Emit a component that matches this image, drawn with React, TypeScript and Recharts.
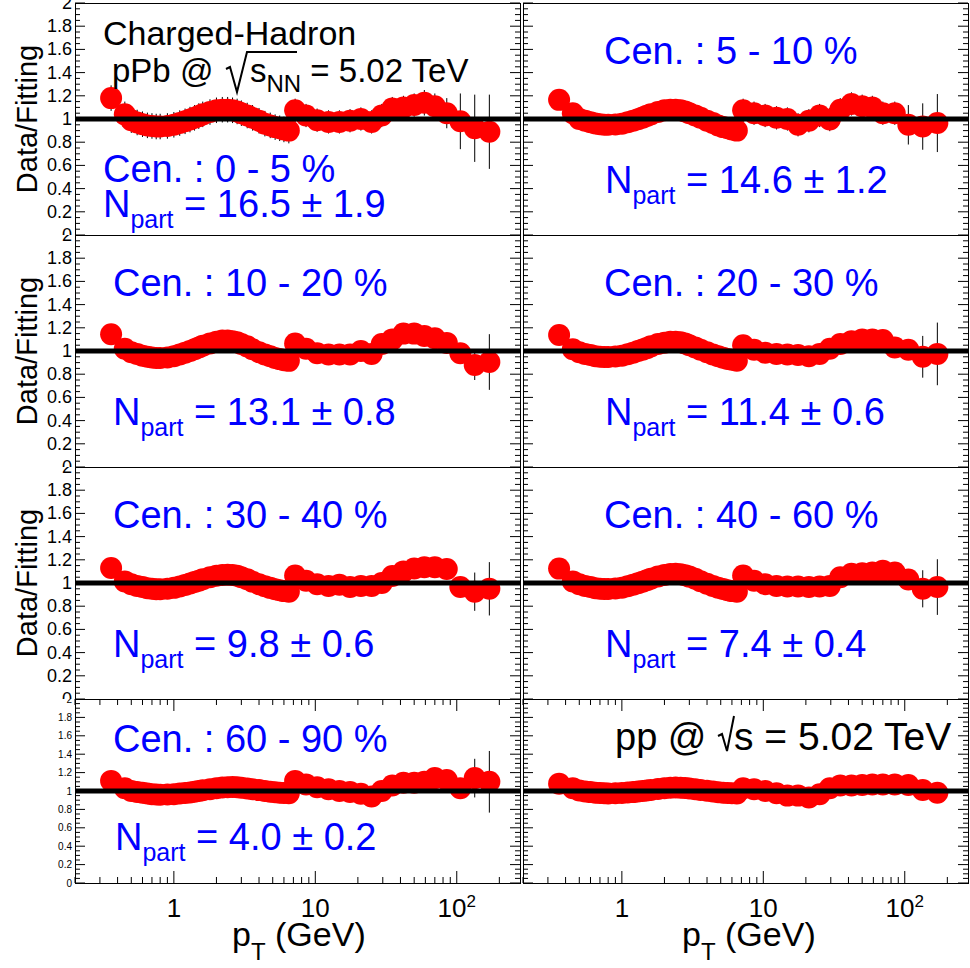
import React from 'react';
import { ScatterChart, Scatter, XAxis, YAxis, ErrorBar, ReferenceLine } from 'recharts';

const FONT = '"Liberation Sans", Arial, Helvetica, sans-serif';
const RED = '#ff0000';
const BLUE = '#0000ff';

// pT bin centres (GeV), shared by every panel
const PT = [
  0.36, 0.45,
  0.5, 0.55, 0.6, 0.65, 0.7, 0.75, 0.8, 0.9, 1.0, 1.1, 1.2, 1.3, 1.4, 1.5, 1.6, 1.8,
  2.0, 2.2, 2.4, 2.6, 2.8, 3.0, 3.3, 3.6, 4.0, 4.4, 4.8, 5.2, 5.6, 6.0, 6.5,
  7.2, 8.6, 10.3, 12.4, 14.8, 17.6, 21, 25, 29.5, 35, 42, 50, 59, 70, 85, 106, 134, 170,
];

// Data/Fitting ratios and their errors per centrality class
const R_0_5 = [
  1.18, 1.04,
  0.99, 0.97, 0.955, 0.945, 0.94, 0.935, 0.935, 0.94, 0.95, 0.965, 0.98, 0.995, 1.01, 1.025, 1.04, 1.06,
  1.075, 1.08, 1.08, 1.075, 1.065, 1.05, 1.03, 1.01, 0.985, 0.96, 0.945, 0.93, 0.92, 0.91, 0.9,
  1.075, 1.03, 0.99, 0.975, 0.975, 0.985, 1.0, 0.975, 1.03, 1.09, 1.1, 1.12, 1.14, 1.11, 1.05, 0.98, 0.92, 0.89,
];
const E_0_5 = [
  0.11, 0.11,
  0.11, 0.11, 0.11, 0.11, 0.11, 0.11, 0.11, 0.11, 0.11, 0.11, 0.11, 0.11, 0.11, 0.11, 0.11, 0.11,
  0.11, 0.11, 0.11, 0.11, 0.11, 0.11, 0.11, 0.11, 0.11, 0.11, 0.11, 0.11, 0.11, 0.11, 0.11,
  0.1, 0.1, 0.1, 0.1, 0.1, 0.1, 0.1, 0.1, 0.1, 0.1, 0.1, 0.1, 0.11, 0.11, 0.13, 0.24, 0.29, 0.32,
];

const R_5_10 = [
  1.165, 1.05,
  1.0, 0.985, 0.972, 0.962, 0.955, 0.95, 0.95, 0.953, 0.96, 0.972, 0.985, 0.998, 1.012, 1.027, 1.04, 1.06,
  1.075, 1.08, 1.08, 1.075, 1.065, 1.05, 1.03, 1.01, 0.985, 0.965, 0.945, 0.93, 0.92, 0.91, 0.9,
  1.075, 1.05, 1.03, 1.01, 1.0, 0.95, 0.985, 1.03, 0.995, 1.08, 1.13, 1.11, 1.1, 1.05, 1.05, 0.95, 0.935, 0.965,
];
const E_5_10 = [
  0.08, 0.08,
  0.08, 0.08, 0.08, 0.08, 0.08, 0.08, 0.08, 0.08, 0.08, 0.08, 0.08, 0.08, 0.08, 0.08, 0.08, 0.08,
  0.08, 0.08, 0.08, 0.08, 0.08, 0.08, 0.08, 0.08, 0.08, 0.08, 0.08, 0.08, 0.08, 0.08, 0.08,
  0.1, 0.1, 0.1, 0.1, 0.1, 0.1, 0.1, 0.1, 0.1, 0.1, 0.1, 0.1, 0.1, 0.1, 0.1, 0.17, 0.2, 0.25,
];

const R_10_20 = [
  1.145, 1.02,
  0.99, 0.975, 0.96, 0.95, 0.945, 0.94, 0.94, 0.945, 0.955, 0.97, 0.985, 1.0, 1.015, 1.03, 1.045, 1.065,
  1.08, 1.09, 1.09, 1.085, 1.075, 1.06, 1.04, 1.015, 0.99, 0.97, 0.955, 0.94, 0.93, 0.92, 0.915,
  1.065, 1.02, 0.98, 0.97, 0.97, 0.97, 1.0, 0.975, 1.06, 1.1, 1.15, 1.15, 1.13, 1.11, 1.07, 0.98, 0.88, 0.905,
];
const E_10_20 = [
  0.06, 0.06,
  0.06, 0.06, 0.06, 0.06, 0.06, 0.06, 0.06, 0.06, 0.06, 0.06, 0.06, 0.06, 0.06, 0.06, 0.06, 0.06,
  0.06, 0.06, 0.06, 0.06, 0.06, 0.06, 0.06, 0.06, 0.06, 0.06, 0.06, 0.06, 0.06, 0.06, 0.06,
  0.06, 0.06, 0.06, 0.06, 0.06, 0.06, 0.06, 0.06, 0.06, 0.06, 0.06, 0.06, 0.06, 0.07, 0.07, 0.08, 0.13, 0.24,
];

const R_20_30 = [
  1.138, 1.015,
  0.99, 0.975, 0.965, 0.955, 0.95, 0.948, 0.948, 0.952, 0.96, 0.972, 0.985, 1.0, 1.012, 1.025, 1.04, 1.06,
  1.072, 1.08, 1.08, 1.075, 1.065, 1.05, 1.03, 1.01, 0.99, 0.97, 0.955, 0.942, 0.932, 0.924, 0.917,
  1.05, 1.01, 0.985, 0.975, 0.97, 0.965, 0.955, 0.975, 1.02, 1.06, 1.085, 1.1, 1.1, 1.095, 1.03, 1.01, 0.95, 0.975,
];
const E_20_30 = [
  0.06, 0.06,
  0.06, 0.06, 0.06, 0.06, 0.06, 0.06, 0.06, 0.06, 0.06, 0.06, 0.06, 0.06, 0.06, 0.06, 0.06, 0.06,
  0.06, 0.06, 0.06, 0.06, 0.06, 0.06, 0.06, 0.06, 0.06, 0.06, 0.06, 0.06, 0.06, 0.06, 0.06,
  0.06, 0.06, 0.06, 0.06, 0.06, 0.06, 0.06, 0.06, 0.06, 0.06, 0.06, 0.06, 0.06, 0.07, 0.07, 0.07, 0.18, 0.27,
];

const R_30_40 = [
  1.13, 1.014,
  0.99, 0.975, 0.965, 0.955, 0.95, 0.947, 0.947, 0.95, 0.958, 0.97, 0.983, 0.996, 1.008, 1.02, 1.032, 1.05,
  1.063, 1.07, 1.072, 1.07, 1.062, 1.05, 1.032, 1.012, 0.99, 0.972, 0.958, 0.947, 0.938, 0.93, 0.925,
  1.065, 1.02, 0.99, 0.975, 0.985, 0.965, 0.975, 0.975, 1.0, 1.06, 1.1, 1.125, 1.135, 1.135, 1.12, 0.965, 0.925, 0.95,
];
const E_30_40 = [
  0.06, 0.06,
  0.06, 0.06, 0.06, 0.06, 0.06, 0.06, 0.06, 0.06, 0.06, 0.06, 0.06, 0.06, 0.06, 0.06, 0.06, 0.06,
  0.06, 0.06, 0.06, 0.06, 0.06, 0.06, 0.06, 0.06, 0.06, 0.06, 0.06, 0.06, 0.06, 0.06, 0.06,
  0.06, 0.06, 0.06, 0.06, 0.06, 0.06, 0.06, 0.06, 0.06, 0.06, 0.06, 0.06, 0.06, 0.07, 0.07, 0.07, 0.165, 0.23,
];

const R_40_60 = [
  1.124, 1.014,
  0.99, 0.975, 0.965, 0.955, 0.95, 0.948, 0.948, 0.952, 0.96, 0.972, 0.985, 0.998, 1.01, 1.023, 1.036, 1.056,
  1.07, 1.078, 1.08, 1.076, 1.067, 1.055, 1.036, 1.016, 0.994, 0.975, 0.96, 0.948, 0.938, 0.93, 0.925,
  1.065, 1.02, 0.99, 0.975, 0.97, 0.97, 0.965, 0.97, 0.975, 1.05, 1.08, 1.085, 1.09, 1.105, 1.09, 1.03, 0.95, 0.965,
];
const E_40_60 = [
  0.06, 0.06,
  0.06, 0.06, 0.06, 0.06, 0.06, 0.06, 0.06, 0.06, 0.06, 0.06, 0.06, 0.06, 0.06, 0.06, 0.06, 0.06,
  0.06, 0.06, 0.06, 0.06, 0.06, 0.06, 0.06, 0.06, 0.06, 0.06, 0.06, 0.06, 0.06, 0.06, 0.06,
  0.06, 0.06, 0.06, 0.06, 0.06, 0.06, 0.06, 0.06, 0.06, 0.06, 0.06, 0.06, 0.06, 0.07, 0.07, 0.07, 0.16, 0.24,
];

const R_60_90 = [
  1.11, 1.03,
  1.0, 0.99, 0.98, 0.972, 0.966, 0.962, 0.96, 0.962, 0.966, 0.972, 0.978, 0.985, 0.993, 1.0, 1.008, 1.02,
  1.03, 1.038, 1.042, 1.043, 1.04, 1.035, 1.028, 1.02, 1.01, 1.0, 0.993, 0.987, 0.982, 0.978, 0.975,
  1.11, 1.07, 1.04, 1.02, 1.0, 0.99, 0.97, 0.94, 1.0, 1.06, 1.09, 1.09, 1.1, 1.14, 1.12, 1.03, 1.14, 1.1,
];
const E_60_90 = [
  0.04, 0.04,
  0.04, 0.04, 0.04, 0.04, 0.04, 0.04, 0.04, 0.04, 0.04, 0.04, 0.04, 0.04, 0.04, 0.04, 0.04, 0.04,
  0.04, 0.04, 0.04, 0.04, 0.04, 0.04, 0.04, 0.04, 0.04, 0.04, 0.04, 0.04, 0.04, 0.04, 0.04,
  0.05, 0.05, 0.05, 0.05, 0.05, 0.05, 0.06, 0.06, 0.08, 0.11, 0.11, 0.11, 0.11, 0.11, 0.11, 0.08, 0.21, 0.335,
];

const R_PP = [
  1.08, 1.03,
  1.005, 0.995, 0.988, 0.982, 0.978, 0.975, 0.974, 0.975, 0.978, 0.983, 0.988, 0.994, 1.0, 1.006, 1.012, 1.022,
  1.03, 1.035, 1.037, 1.036, 1.033, 1.028, 1.02, 1.012, 1.002, 0.994, 0.987, 0.982, 0.978, 0.975, 0.972,
  1.03, 1.02, 1.0, 0.975, 0.95, 0.95, 0.93, 0.965, 1.03, 1.06, 1.06, 1.065, 1.07, 1.07, 1.07, 1.065, 1.01, 0.98,
];
const E_PP = [
  0.02, 0.02,
  0.02, 0.02, 0.02, 0.02, 0.02, 0.02, 0.02, 0.02, 0.02, 0.02, 0.02, 0.02, 0.02, 0.02, 0.02, 0.02,
  0.02, 0.02, 0.02, 0.02, 0.02, 0.02, 0.02, 0.02, 0.02, 0.02, 0.02, 0.02, 0.02, 0.02, 0.02,
  0.03, 0.03, 0.03, 0.03, 0.03, 0.03, 0.03, 0.03, 0.03, 0.03, 0.03, 0.03, 0.03, 0.03, 0.03, 0.04, 0.04, 0.05,
];

// panel annotations
const CENTRALITY = ['0 - 5', '5 - 10', '10 - 20', '20 - 30', '30 - 40', '40 - 60', '60 - 90'];
const NPART = ['16.5 ± 1.9', '14.6 ± 1.2', '13.1 ± 0.8', '11.4 ± 0.6', '9.8 ± 0.6', '7.4 ± 0.4', '4.0 ± 0.2'];

// axes
const X_DOMAIN = [0.2, 280];
const X_TICKS = [
  0.2, 0.3, 0.4, 0.5, 0.6, 0.7, 0.8, 0.9, 1, 2, 3, 4, 5, 6, 7, 8, 9,
  10, 20, 30, 40, 50, 60, 70, 80, 90, 100, 200,
];
const X_MAJOR = [1, 10, 100];
const Y_MAJOR = [0, 0.2, 0.4, 0.6, 0.8, 1, 1.2, 1.4, 1.6, 1.8, 2];
const Y_LABELS = ['0', '0.2', '0.4', '0.6', '0.8', '1', '1.2', '1.4', '1.6', '1.8', '2'];
// minor ticks every 0.05
const Y_TICKS = Array.from({ length: 41 }, (_, i) => Math.round(i * 5) / 100);

type Pt = { pt: number; r: number; err: number };
const toPoints = (ratio: number[], err: number[]): Pt[] =>
  PT.map((pt, i) => ({ pt, r: ratio[i], err: err[i] }));

const PLOT_W = 445;
const LEFT_COL = { cLeft: 0, cWidth: 521, plotLeft: 75 };
const RIGHT_COL = { cLeft: 521, cWidth: 449, plotLeft: 2 };
const ROWS = [
  { cTop: 0, cHeight: 235, plotTop: 3, plotH: 232 },
  { cTop: 235, cHeight: 232, plotTop: 0, plotH: 232 },
  { cTop: 467, cHeight: 232, plotTop: 0, plotH: 232 },
  { cTop: 699, cHeight: 269, plotTop: 0, plotH: 184 },
];

const Marker = (props: any) => <circle cx={props.cx} cy={props.cy} r={11} fill={RED} />;

// inward ticks on bottom and top edges, labels only on the last row
const XTick = (props: any) => {
  const { x, y, payload, plotH, showLabel } = props;
  const v = payload.value;
  const major = X_MAJOR.includes(v);
  const len = major ? 12 : 6;
  return (
    <g>
      <line x1={x} x2={x} y1={y} y2={y - len} stroke="#000" strokeWidth={1} />
      <line x1={x} x2={x} y1={y - plotH} y2={y - plotH + len} stroke="#000" strokeWidth={1} />
      {showLabel && major && (
        <text x={x} y={y + 34} textAnchor="middle" fontSize={26} fontFamily={FONT} fill="#000">
          {v === 100 ? (
            <>
              10<tspan fontSize={17} dy={-10}>2</tspan>
            </>
          ) : (
            String(v)
          )}
        </text>
      )}
    </g>
  );
};

// inward ticks on left and right edges
const YTick = (props: any) => {
  const { x, y, payload, plotW, fontSize } = props;
  const v = payload.value;
  const idx = Y_MAJOR.findIndex((m) => Math.abs(m - v) < 1e-6);
  const len = idx >= 0 ? 10 : 5;
  return (
    <g>
      <line x1={x} x2={x + len} y1={y} y2={y} stroke="#000" strokeWidth={1} />
      <line x1={x + plotW} x2={x + plotW - len} y1={y} y2={y} stroke="#000" strokeWidth={1} />
      {fontSize > 0 && idx >= 0 && (
        <text x={x - 3} y={y} textAnchor="end" dominantBaseline="central" fontSize={fontSize} fontFamily={FONT} fill="#000">
          {Y_LABELS[idx]}
        </text>
      )}
    </g>
  );
};

type PanelProps = {
  col: typeof LEFT_COL;
  row: (typeof ROWS)[number];
  points: Pt[];
  yLabelSize: number;
  xLabels: boolean;
};

function Panel({ col, row, points, yLabelSize, xLabels }: PanelProps) {
  const rightMargin = col.cWidth - col.plotLeft - PLOT_W;
  const xAxisH = row.cHeight - row.plotTop - row.plotH;
  return (
    <div
      style={{
        position: 'absolute',
        left: col.cLeft,
        top: row.cTop,
        width: col.cWidth,
        height: row.cHeight,
        overflow: 'hidden',
      }}
    >
      <ScatterChart
        width={col.cWidth}
        height={row.cHeight}
        margin={{ top: row.plotTop, right: rightMargin, bottom: 0, left: 0 }}
      >
        <XAxis
          dataKey="pt"
          type="number"
          scale="log"
          domain={X_DOMAIN}
          allowDataOverflow
          ticks={X_TICKS}
          interval={0}
          height={xAxisH}
          tickSize={0}
          tickMargin={0}
          tickLine={false}
          axisLine={false}
          tick={(p: any) => <XTick {...p} plotH={row.plotH} showLabel={xLabels} />}
        />
        <YAxis
          dataKey="r"
          type="number"
          domain={[0, 2]}
          allowDataOverflow
          ticks={Y_TICKS}
          interval={0}
          width={col.plotLeft}
          tickSize={0}
          tickMargin={0}
          tickLine={false}
          axisLine={false}
          tick={(p: any) => <YTick {...p} plotW={PLOT_W} fontSize={yLabelSize} />}
        />
        <Scatter data={points} fill={RED} shape={Marker} isAnimationActive={false}>
          <ErrorBar dataKey="err" direction="y" width={0} stroke="#000" strokeWidth={1} isAnimationActive={false} />
        </Scatter>
        <ReferenceLine y={1} stroke="#000" strokeWidth={5} zIndex={1000} />
      </ScatterChart>
      <div
        style={{
          position: 'absolute',
          left: col.plotLeft,
          top: row.plotTop,
          width: PLOT_W + 1,
          height: row.plotH + 1,
          border: '1px solid #000',
          boxSizing: 'border-box',
        }}
      />
    </div>
  );
}

const CenLabel = ({ x, y, text }: { x: number; y: number; text: string }) => (
  <text x={x} y={y} fontSize={38} fill={BLUE}>
    Cen. : {text} %
  </text>
);

const NpartLabel = ({ x, y, text }: { x: number; y: number; text: string }) => (
  <text x={x} y={y} fontSize={38} fill={BLUE}>
    N
    <tspan fontSize={25} dy={11}>
      part
    </tspan>
    <tspan dy={-11}> = {text}</tspan>
  </text>
);

const PtTitle = ({ x }: { x: number }) => (
  <text x={x} y={946} fontSize={34} fill="#000">
    p
    <tspan fontSize={24} dy={14}>
      T
    </tspan>
    <tspan dy={-14}> (GeV)</tspan>
  </text>
);

export default function App() {
  const panels = [
    { col: LEFT_COL, row: 0, r: R_0_5, e: E_0_5 },
    { col: RIGHT_COL, row: 0, r: R_5_10, e: E_5_10 },
    { col: LEFT_COL, row: 1, r: R_10_20, e: E_10_20 },
    { col: RIGHT_COL, row: 1, r: R_20_30, e: E_20_30 },
    { col: LEFT_COL, row: 2, r: R_30_40, e: E_30_40 },
    { col: RIGHT_COL, row: 2, r: R_40_60, e: E_40_60 },
    { col: LEFT_COL, row: 3, r: R_60_90, e: E_60_90 },
    { col: RIGHT_COL, row: 3, r: R_PP, e: E_PP },
  ];

  return (
    <div
      style={{
        position: 'absolute',
        left: 0,
        top: 0,
        width: 970,
        height: 968,
        background: '#fff',
        overflow: 'hidden',
        fontFamily: FONT,
      }}
    >
      {panels.map((p, i) => (
        <Panel
          key={i}
          col={p.col}
          row={ROWS[p.row]}
          points={toPoints(p.r, p.e)}
          yLabelSize={p.col === LEFT_COL ? (p.row === 3 ? 10 : 18) : 0}
          xLabels={p.row === 3}
        />
      ))}

      <svg
        width={970}
        height={968}
        style={{ position: 'absolute', left: 0, top: 0, pointerEvents: 'none' }}
        fontFamily={FONT}
      >
        {[119, 351, 583].map((cy) => (
          <text key={cy} x={37} y={cy} fontSize={29} fill="#000" textAnchor="middle" transform={`rotate(-90 37 ${cy})`}>
            Data/Fitting
          </text>
        ))}

        <text x={103} y={45} fontSize={34} fill="#000">
          Charged-Hadron
        </text>
        <text x={112} y={82} fontSize={33} fill="#000">
          pPb @
        </text>
        <polyline points="226,69 230,67 237,92 247,52 297,52" fill="none" stroke="#000" strokeWidth={2} />
        <text x={250} y={82} fontSize={33} fill="#000">
          s
          <tspan fontSize={24} dy={10}>
            NN
          </tspan>
          <tspan dy={-10}> = 5.02 TeV</tspan>
        </text>

        <CenLabel x={103} y={182} text={CENTRALITY[0]} />
        <NpartLabel x={103} y={217} text={NPART[0]} />
        <CenLabel x={604} y={64} text={CENTRALITY[1]} />
        <NpartLabel x={605} y={193} text={NPART[1]} />

        <CenLabel x={113} y={296} text={CENTRALITY[2]} />
        <NpartLabel x={113} y={425} text={NPART[2]} />
        <CenLabel x={604} y={296} text={CENTRALITY[3]} />
        <NpartLabel x={605} y={425} text={NPART[3]} />

        <CenLabel x={113} y={528} text={CENTRALITY[4]} />
        <NpartLabel x={113} y={657} text={NPART[4]} />
        <CenLabel x={604} y={528} text={CENTRALITY[5]} />
        <NpartLabel x={605} y={657} text={NPART[5]} />

        <CenLabel x={113} y={752} text={CENTRALITY[6]} />
        <NpartLabel x={115} y={850} text={NPART[6]} />

        <text x={615} y={750} fontSize={38} fill="#000">
          pp @
        </text>
        <polyline points="718,736 722,734 727,751 734,716" fill="none" stroke="#000" strokeWidth={2} />
        <text x={734} y={750} fontSize={39} fill="#000">
          s = 5.02 TeV
        </text>

        <PtTitle x={232} />
        <PtTitle x={682} />
      </svg>
    </div>
  );
}
